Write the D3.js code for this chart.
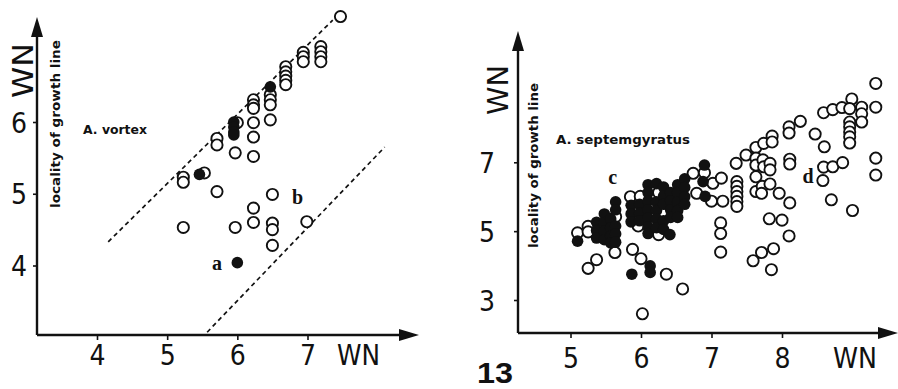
<!DOCTYPE html>
<html>
<head>
<meta charset="utf-8">
<script src="https://cdn.jsdelivr.net/npm/d3@7"></script>
<style>
  html, body { margin: 0; padding: 0; background: #fff; }
  svg { display: block; }
</style>
</head>
<body>
<svg id="chart" width="898" height="389"></svg>
<script>
// ---- A. vortex ----
const vortexTicksX = [4, 5, 6, 7];
const vortexTicksY = [4, 5, 6];
const vortexOpen = [
  [7.47, 7.47],
  [7.19, 7.05], [7.19, 6.98], [7.19, 6.91], [7.19, 6.84],
  [6.94, 6.97], [6.94, 6.91], [6.94, 6.84],
  [6.69, 6.77], [6.69, 6.70], [6.69, 6.64], [6.69, 6.58], [6.69, 6.52],
  [6.47, 6.38], [6.47, 6.31], [6.47, 6.24], [6.47, 6.03],
  [6.23, 6.31], [6.23, 6.24], [6.23, 6.19], [6.23, 5.99], [6.23, 5.79], [6.23, 5.52],
  [6.00, 5.99], [5.97, 5.57],
  [5.71, 5.77], [5.71, 5.68], [5.71, 5.03],
  [5.23, 5.23], [5.23, 5.16], [5.53, 5.29],
  [5.23, 4.53], [5.97, 4.53], [6.23, 4.80], [6.23, 4.60],
  [6.50, 4.99], [6.50, 4.59], [6.50, 4.50], [6.50, 4.28], [6.99, 4.61]
];
const vortexFilled = [
  [6.47, 6.49], [5.95, 6.00], [5.95, 5.93], [5.95, 5.86], [5.95, 5.82],
  [5.46, 5.27], [6.00, 4.04]
];
// limiting lines of the field (dashed)
const vortexUpperLine = [[4.16, 4.33], [7.36, 7.42]];
const vortexLowerLine = [[5.57, 3.07], [8.10, 5.65]];
const vortexLetters = [["a", 5.71, 4.03], ["b", 6.86, 4.95]];

// ---- A. septemgyratus ----
const septTicksX = [5, 6, 7, 8];
const septTicksY = [3, 5, 7];
const septOpen = [
  // low whorls
  [5.10, 4.95], [5.25, 5.14], [5.25, 4.98], [5.25, 3.92], [5.37, 4.17], [5.63, 4.38],
  [5.52, 5.20], [5.64, 5.42],
  [5.85, 6.00], [5.99, 6.01], [5.96, 5.15], [6.25, 6.12], [6.30, 5.55], [6.48, 5.95],
  [6.25, 4.90], [5.88, 4.47], [6.00, 4.20], [6.36, 3.75], [6.59, 3.32], [6.02, 2.60],
  [6.74, 6.68], [6.90, 6.70], [6.79, 6.10], [7.00, 5.87], [7.02, 6.39], [7.14, 6.54],
  [7.16, 5.87], [7.13, 5.24], [7.13, 4.93], [7.13, 4.39],
  // middle whorls
  [7.35, 6.97], [7.36, 6.44], [7.36, 6.30], [7.36, 6.15], [7.36, 6.01], [7.36, 5.86], [7.36, 5.72],
  [7.49, 7.21], [7.63, 7.43], [7.74, 7.55], [7.86, 7.76], [7.86, 7.59],
  [7.63, 7.12], [7.63, 6.92], [7.63, 6.58], [7.63, 6.15],
  [7.73, 7.07], [7.74, 6.87], [7.72, 6.30], [7.71, 6.10],
  [7.83, 6.97], [7.83, 6.78], [7.83, 6.37],
  [7.96, 6.10], [8.11, 5.82], [8.10, 4.86], [7.82, 5.36], [8.00, 5.32],
  [7.88, 4.49], [7.71, 4.38], [7.59, 4.14], [7.85, 3.88],
  // high whorls
  [8.10, 8.03], [8.10, 7.85], [8.26, 8.19], [8.11, 7.09], [8.11, 6.95],
  [8.47, 7.82], [8.60, 7.45], [8.59, 6.86], [8.72, 6.87], [8.86, 6.99], [8.58, 6.47],
  [8.70, 5.91], [9.00, 5.60],
  [8.59, 8.44], [8.72, 8.53], [8.85, 8.59], [8.99, 8.84], [8.96, 8.56],
  [9.13, 8.60], [9.13, 8.41], [9.13, 8.17],
  [8.96, 8.17], [8.96, 8.03], [8.96, 7.88], [8.96, 7.74], [8.96, 7.56],
  [9.33, 9.29], [9.33, 8.60], [9.33, 7.12], [9.33, 6.63]
];
const septFilled = [
  [5.10, 4.71],
  [5.37, 5.26], [5.37, 5.02], [5.37, 4.80],
  [5.48, 5.50], [5.48, 5.25], [5.48, 5.00], [5.48, 4.75],
  [5.57, 5.35], [5.57, 5.10], [5.57, 4.85], [5.57, 4.66],
  [5.64, 5.85], [5.64, 5.62], [5.64, 5.15], [5.64, 4.92], [5.64, 4.68],
  [5.86, 5.75], [5.86, 5.50], [5.86, 5.27],
  [5.98, 5.78], [5.98, 5.52], [5.98, 5.30],
  [6.10, 6.35], [6.10, 6.12], [6.10, 5.88], [6.10, 5.62], [6.10, 5.38], [6.10, 5.12], [6.10, 4.93],
  [6.22, 6.38], [6.22, 5.85], [6.22, 5.60], [6.22, 5.35], [6.22, 5.10],
  [6.32, 6.28], [6.32, 6.02], [6.32, 5.78], [6.32, 5.30], [6.32, 5.05],
  [6.42, 6.12], [6.42, 5.88], [6.42, 5.62], [6.42, 5.40], [6.41, 4.90],
  [6.52, 6.35], [6.52, 6.12], [6.52, 5.85], [6.52, 5.60], [6.52, 5.40],
  [6.62, 6.52], [6.62, 6.27], [6.62, 6.00], [6.62, 5.78],
  [6.90, 6.92], [6.88, 6.44], [6.91, 6.01],
  [5.87, 3.75], [6.13, 3.99], [6.13, 3.80]
];
const septLetters = [["c", 5.60, 6.57], ["d", 8.37, 6.60]];

const svg = d3.select("#chart");
const ink = "#111";
const R = 5.6;

// one panel: axes with arrowheads, labels and the circle marks
function drawPanel(cfg) {
  const g = svg.append("g");
  const { x, y } = cfg;

  // axis lines
  g.append("line")
    .attr("x1", cfg.left).attr("x2", cfg.right - 14)
    .attr("y1", cfg.bottom).attr("y2", cfg.bottom)
    .attr("stroke", ink).attr("stroke-width", 2.4);
  g.append("line")
    .attr("x1", cfg.left).attr("x2", cfg.left)
    .attr("y1", cfg.bottom).attr("y2", cfg.top + 14)
    .attr("stroke", ink).attr("stroke-width", 2.4);
  // arrowheads
  g.append("path")
    .attr("d", `M${cfg.right},${cfg.bottom} L${cfg.right - 20},${cfg.bottom - 6} L${cfg.right - 20},${cfg.bottom + 6} Z`)
    .attr("fill", ink);
  g.append("path")
    .attr("d", `M${cfg.left},${cfg.top} L${cfg.left - 6},${cfg.top + 20} L${cfg.left + 6},${cfg.top + 20} Z`)
    .attr("fill", ink);

  // ticks via d3 axes, domain path removed
  const ax = g.append("g")
    .attr("transform", `translate(0,${cfg.bottom})`)
    .call(d3.axisBottom(x).tickValues(cfg.ticksX).tickSize(5).tickFormat(d3.format("d")));
  ax.select(".domain").remove();
  ax.selectAll("line").attr("stroke", ink).attr("stroke-width", 1.6);
  ax.selectAll("text")
    .attr("y", cfg.xLabelBase - cfg.bottom).attr("dy", null)
    .attr("font-family", "'DejaVu Sans Condensed', 'DejaVu Sans', sans-serif")
    .attr("font-size", 28).attr("fill", ink);

  const ay = g.append("g")
    .attr("transform", `translate(${cfg.left},0)`)
    .call(d3.axisLeft(y).tickValues(cfg.ticksY).tickSize(4).tickFormat(d3.format("d")));
  ay.select(".domain").remove();
  ay.selectAll("line").attr("stroke", ink).attr("stroke-width", 1.6);
  ay.selectAll("text")
    .attr("x", cfg.yLabelX - cfg.left).attr("dy", "0.36em")
    .attr("text-anchor", "middle")
    .attr("font-family", "'DejaVu Sans Condensed', 'DejaVu Sans', sans-serif")
    .attr("font-size", 28).attr("fill", ink);

  // axis titles
  g.append("text")
    .attr("x", cfg.wnX.x).attr("y", cfg.xLabelBase)
    .attr("textLength", cfg.wnX.w).attr("lengthAdjust", "spacingAndGlyphs")
    .attr("font-family", "'DejaVu Sans Condensed', 'DejaVu Sans', sans-serif")
    .attr("font-size", 29).attr("fill", ink).text("WN");
  g.append("text")
    .attr("transform", `translate(${cfg.wnY.x},${cfg.wnY.y}) rotate(-90)`)
    .attr("textLength", cfg.wnY.w).attr("lengthAdjust", "spacingAndGlyphs")
    .attr("font-family", "'DejaVu Sans', sans-serif")
    .attr("font-size", 29).attr("fill", ink).text("WN");
  g.append("text")
    .attr("transform", `translate(${cfg.loc.x},${cfg.loc.y}) rotate(-90)`)
    .attr("textLength", cfg.loc.w).attr("lengthAdjust", "spacingAndGlyphs")
    .attr("font-family", "'DejaVu Sans', sans-serif").attr("font-weight", "bold")
    .attr("font-size", 12).attr("fill", ink).text("locality of growth line");
  g.append("text")
    .attr("x", cfg.name.x).attr("y", cfg.name.y)
    .attr("textLength", cfg.name.w).attr("lengthAdjust", "spacingAndGlyphs")
    .attr("font-family", "'DejaVu Sans', sans-serif").attr("font-weight", "bold")
    .attr("font-size", 12.5).attr("fill", ink).text(cfg.name.t);

  // dashed limiting lines
  (cfg.lines || []).forEach(seg => {
    g.append("path")
      .attr("d", d3.line().x(d => x(d[0])).y(d => y(d[1]))(seg))
      .attr("fill", "none").attr("stroke", ink)
      .attr("stroke-width", 1.7).attr("stroke-dasharray", "4.5,3.5");
  });

  // open circles first, filled circles on top
  g.append("g").selectAll("circle").data(cfg.open).join("circle")
    .attr("cx", d => x(d[0])).attr("cy", d => y(d[1])).attr("r", R)
    .attr("fill", "#fff").attr("stroke", ink).attr("stroke-width", 1.9);
  g.append("g").selectAll("circle").data(cfg.filled).join("circle")
    .attr("cx", d => x(d[0])).attr("cy", d => y(d[1])).attr("r", R + 0.2)
    .attr("fill", ink);

  // letter annotations
  g.selectAll("text.letter").data(cfg.letters).join("text")
    .attr("class", "letter")
    .attr("x", d => x(d[1])).attr("y", d => y(d[2])).attr("dy", "0.35em")
    .attr("text-anchor", "middle")
    .attr("font-family", "'Liberation Serif', 'DejaVu Serif', serif")
    .attr("font-weight", "bold").attr("font-size", 20).attr("fill", ink)
    .text(d => d[0]);
}

drawPanel({
  x: d3.scaleLinear().domain([4, 7]).range([97, 307.5]),
  y: d3.scaleLinear().domain([4, 6]).range([265.5, 122]),
  left: 37, right: 419, top: 17, bottom: 335,
  ticksX: vortexTicksX, ticksY: vortexTicksY,
  xLabelBase: 365, yLabelX: 19,
  wnX: { x: 337, w: 43 }, wnY: { x: 33, y: 98, w: 55 },
  loc: { x: 60, y: 208, w: 168 },
  name: { x: 83, y: 134, w: 64, t: "A. vortex" },
  lines: [vortexUpperLine, vortexLowerLine],
  open: vortexOpen, filled: vortexFilled, letters: vortexLetters
});

drawPanel({
  x: d3.scaleLinear().domain([5, 8]).range([570.5, 782]),
  y: d3.scaleLinear().domain([3, 7]).range([300, 162.3]),
  left: 518, right: 898, top: 31, bottom: 333,
  ticksX: septTicksX, ticksY: septTicksY,
  xLabelBase: 368, yLabelX: 487,
  wnX: { x: 833, w: 44 }, wnY: { x: 508, y: 115, w: 50 },
  loc: { x: 538, y: 248, w: 165 },
  name: { x: 556, y: 144, w: 134, t: "A. septemgyratus" },
  lines: [],
  open: septOpen, filled: septFilled, letters: septLetters
});

// figure number
svg.append("text")
  .attr("x", 477).attr("y", 383)
  .attr("font-family", "'Liberation Sans', Arial, sans-serif")
  .attr("font-weight", "bold").attr("font-size", 29)
  .attr("textLength", 36).attr("lengthAdjust", "spacingAndGlyphs")
  .attr("fill", ink).text("13");
</script>
</body>
</html>
